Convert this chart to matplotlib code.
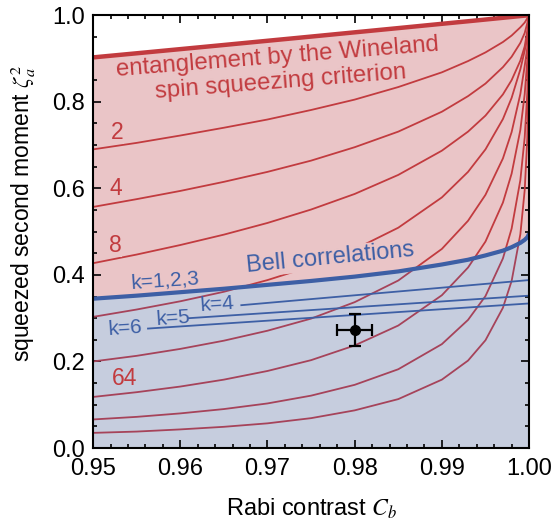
import matplotlib
matplotlib.use('Agg')
import matplotlib.pyplot as plt
from matplotlib.ticker import MultipleLocator, FormatStrFormatter

plt.rcParams['font.family'] = ['Liberation Sans', 'DejaVu Sans']
plt.rcParams['mathtext.fontset'] = 'stix'

# ---- data ----
contrast = [0.95, 0.955, 0.96, 0.965, 0.97, 0.975, 0.98, 0.985, 0.99, 0.993,
            0.995, 0.997, 0.998, 0.999, 0.9995, 0.9998, 1.0]
wineland = [0.9025, 0.912, 0.9216, 0.9312, 0.9409, 0.9506, 0.9604, 0.9702, 0.9801,
            0.986, 0.990, 0.994, 0.996, 0.998, 0.999, 0.9996, 1.0]
bell = [0.345, 0.352, 0.360, 0.368, 0.377, 0.386, 0.396, 0.408, 0.424, 0.435,
        0.445, 0.456, 0.464, 0.474, 0.481, 0.487, 0.495]
depth_2 = [0.690, 0.705, 0.722, 0.740, 0.759, 0.781, 0.805, 0.834, 0.868, 0.894, 0.914, 0.938, 0.953, 0.972, 0.983, 0.993, 1.0]
depth_4 = [0.557, 0.575, 0.594, 0.615, 0.638, 0.664, 0.695, 0.731, 0.777, 0.813, 0.842, 0.880, 0.904, 0.936, 0.959, 0.982, 1.0]
depth_8 = [0.427, 0.447, 0.469, 0.493, 0.520, 0.551, 0.587, 0.631, 0.687, 0.731, 0.768, 0.817, 0.850, 0.895, 0.928, 0.965, 1.0]
depth_16 = [0.303, 0.320, 0.339, 0.361, 0.388, 0.420, 0.459, 0.509, 0.579, 0.638, 0.690, 0.760, 0.809, 0.875, 0.918, 0.948, 1.0]
depth_32 = [0.200, 0.213, 0.229, 0.248, 0.271, 0.299, 0.337, 0.387, 0.460, 0.525, 0.585, 0.669, 0.730, 0.818, 0.883, 0.925, 1.0]
depth_64 = [0.118, 0.129, 0.142, 0.158, 0.178, 0.203, 0.237, 0.283, 0.353, 0.417, 0.477, 0.567, 0.634, 0.735, 0.818, 0.897, 1.0]
depth_128 = [0.066, 0.072, 0.080, 0.090, 0.103, 0.121, 0.146, 0.182, 0.240, 0.296, 0.351, 0.438, 0.507, 0.619, 0.718, 0.822, 1.0]
depth_256 = [0.035, 0.038, 0.043, 0.049, 0.057, 0.069, 0.087, 0.113, 0.158, 0.202, 0.249, 0.324, 0.386, 0.494, 0.596, 0.716, 1.0]
depth_curves = [depth_2, depth_4, depth_8, depth_16, depth_32, depth_64, depth_128, depth_256]

k_labels = ['k=4', 'k=5', 'k=6']
k_x = [[0.967, 1.0], [0.961, 1.0], [0.9563, 1.0]]
k_y = [[0.330, 0.388], [0.300, 0.352], [0.276, 0.334]]

point_x, point_y = 0.98, 0.272
point_xerr, point_yerr = 0.002, 0.037

x_ticks = [0.95, 0.96, 0.97, 0.98, 0.99, 1.00]
y_ticks = [0.0, 0.2, 0.4, 0.6, 0.8, 1.0]

# ---- styling ----
RED_FILL = '#EAC5C7'
BLUE_FILL = '#C6CDDE'
RED = '#C23B3F'
MAROON = '#A6435A'
BLUE = '#3D5FA5'

fig = plt.figure(figsize=(5.54, 5.24), dpi=100)
ax = fig.add_axes([0.168, 0.145, 0.787, 0.826])

blue_poly = ax.fill_between(contrast, 0, bell, color=BLUE_FILL, lw=0, zorder=1)
red_poly = ax.fill_between(contrast, bell, wineland, color=RED_FILL, lw=0, zorder=1)

for ys in depth_curves:
    l1, = ax.plot(contrast, ys, color=RED, lw=1.3, zorder=2)
    l1.set_clip_path(red_poly.get_paths()[0], ax.transData)
    l2, = ax.plot(contrast, ys, color=MAROON, lw=1.3, zorder=2)
    l2.set_clip_path(blue_poly.get_paths()[0], ax.transData)

ax.plot(contrast, wineland, color=RED, lw=3.2, zorder=4, solid_capstyle='butt')
ax.plot(contrast, bell, color=BLUE, lw=3.0, zorder=4, solid_capstyle='butt')

for xs, ys in zip(k_x, k_y):
    ax.plot(xs, ys, color=BLUE, lw=1.3, zorder=3)

ax.errorbar(point_x, point_y, xerr=point_xerr, yerr=point_yerr, fmt='o',
            color='black', ms=7, capsize=4, elinewidth=1.6, capthick=1.6, zorder=6)

# ---- annotations ----
ax.text(0.9712, 0.902, 'entanglement by the Wineland', color=RED, fontsize=17.3,
        rotation=4.5, rotation_mode='anchor', ha='center', va='center', zorder=5)
ax.text(0.97156, 0.845, 'spin squeezing criterion', color=RED, fontsize=17.3,
        rotation=4.5, rotation_mode='anchor', ha='center', va='center', zorder=5)

num_labels = ['2', '4', '8', '64']
num_pos = [(0.95275, 0.730), (0.95264, 0.6005), (0.95252, 0.4688), (0.95356, 0.1617)]
num_bg = [RED_FILL, RED_FILL, RED_FILL, BLUE_FILL]
for t, (px, py), bg in zip(num_labels, num_pos, num_bg):
    ax.text(px, py, t, color=RED, fontsize=16.5, ha='center', va='center', zorder=5,
            bbox=dict(facecolor=bg, edgecolor='none', pad=0.5))

ax.text(0.97718, 0.4388, 'Bell correlations', color=BLUE, fontsize=17,
        rotation=5.5, rotation_mode='anchor', ha='center', va='center', zorder=5,
        bbox=dict(facecolor=RED_FILL, edgecolor='none', pad=0.5))
ax.text(0.95826, 0.3857, 'k=1,2,3', color=BLUE, fontsize=15,
        rotation=4, rotation_mode='anchor', ha='center', va='center', zorder=5)
k_pos = [(0.96428, 0.3314), (0.95923, 0.2991), (0.95373, 0.276)]
for t, (px, py) in zip(k_labels, k_pos):
    ax.text(px, py, t, color=BLUE, fontsize=15, rotation=4, rotation_mode='anchor',
            ha='center', va='center', zorder=5)

# ---- axes ----
ax.set_xlim(0.95, 1.00)
ax.set_ylim(0.0, 1.0)
ax.set_xticks(x_ticks)
ax.set_yticks(y_ticks)
ax.xaxis.set_major_formatter(FormatStrFormatter('%.2f'))
ax.yaxis.set_major_formatter(FormatStrFormatter('%.1f'))
ax.xaxis.set_minor_locator(MultipleLocator(0.002))
ax.yaxis.set_minor_locator(MultipleLocator(0.05))
ax.tick_params(which='both', direction='in', top=True, right=True, width=1.2, labelsize=17)
ax.tick_params(which='major', length=6)
ax.tick_params(which='minor', length=3)
ax.tick_params(axis='x', pad=7)
ax.tick_params(axis='y', pad=6)
for s in ax.spines.values():
    s.set_linewidth(1.5)
    s.set_zorder(7)

ax.set_xlabel(r'Rabi contrast $C_b$', fontsize=17)
ax.xaxis.set_label_coords(0.501, -0.113)
ax.set_ylabel(r'squeezed second moment $\zeta_a^2$', fontsize=16.5)
ax.yaxis.set_label_coords(-0.126, 0.543)

fig.savefig('out.png', dpi=100)
